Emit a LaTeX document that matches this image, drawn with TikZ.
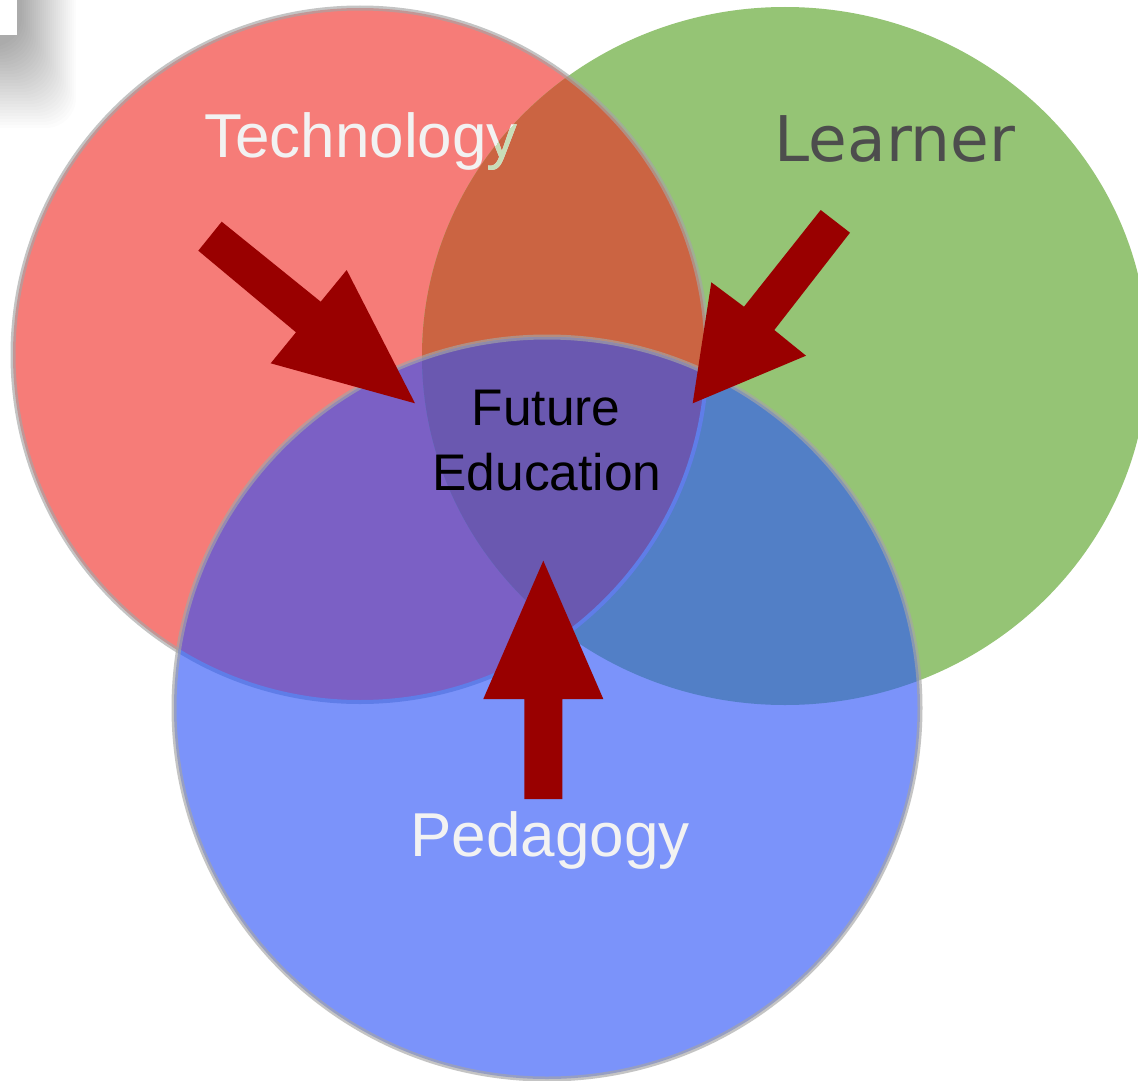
\documentclass[tikz,border=0pt]{standalone}
\usepackage{fontspec}
\setmainfont{Liberation Sans}
\newfontfamily\learnerfont{DejaVu Sans}
\definecolor{cred}{RGB}{246,124,120}
\definecolor{cgreen}{RGB}{149,196,117}
\definecolor{cblue}{RGB}{123,147,250}
\definecolor{crg}{RGB}{203,100,66}
\definecolor{cbr}{RGB}{123,96,197}
\definecolor{cbg}{RGB}{82,127,198}
\definecolor{cbrg}{RGB}{106,88,176}
\definecolor{cborder}{RGB}{165,165,165}
\definecolor{cinborder}{RGB}{95,125,232}
\definecolor{carrow}{RGB}{153,0,0}
\definecolor{ctext}{RGB}{242,242,242}
\definecolor{ctextg}{RGB}{200,221,184}
\definecolor{clearner}{RGB}{77,77,77}
\begin{document}
\begin{tikzpicture}[x=1pt,y=-1pt,
  rim/.style={draw=cborder,draw opacity=0.65,line width=5pt},
  blockarrow/.style={fill=carrow},
  biglabel/.style={font=\fontsize{62}{62}\selectfont,anchor=base,inner sep=0pt},
  midlabel/.style={font=\fontsize{51.5}{51.5}\selectfont,anchor=base,inner sep=0pt,text=black}]
\useasboundingbox (0,0) rectangle (1138,1081);
\fill[white] (0,0) rectangle (1138,1081);
% top-left shadow
\begin{scope}
\clip (0,0) rectangle (1138,1081);
\foreach \i in {0,...,27}{
  \fill[black,opacity=0.011,rounded corners=30pt] (-80,-80) rectangle ({76-2*\i},{128-3*\i});
}
\fill[white] (0,0) rectangle (17,35);
\end{scope}
% fills
\fill[cred] (360,355) ellipse [x radius=347pt, y radius=347pt];
\fill[cgreen] (785,356) ellipse [x radius=363pt, y radius=349pt];
\begin{scope}
\clip (360,355) ellipse [x radius=347pt, y radius=347pt];
\fill[crg] (785,356) ellipse [x radius=363pt, y radius=349pt];
\end{scope}
\node[biglabel,text=ctext] (tech) at (361,157) {Technology};
\begin{scope}
\clip (360,355) ellipse [x radius=347pt, y radius=347pt];
\clip (785,356) ellipse [x radius=363pt, y radius=349pt];
\node[biglabel,text=ctextg] at (361,157) {Technology};
\end{scope}
\draw[rim] (360,355) ellipse [x radius=347pt, y radius=347pt];
\fill[cblue] (547,708) ellipse [x radius=373pt, y radius=371pt];
\begin{scope}
\clip (547,708) ellipse [x radius=373pt, y radius=371pt];
\fill[cbr] (360,355) ellipse [x radius=347pt, y radius=347pt];
\fill[cbg] (785,356) ellipse [x radius=363pt, y radius=349pt];
\begin{scope}
\clip (360,355) ellipse [x radius=347pt, y radius=347pt];
\fill[cbrg] (785,356) ellipse [x radius=363pt, y radius=349pt];
\end{scope}
\draw[draw=cinborder,line width=4pt] (360,355) ellipse [x radius=347pt, y radius=347pt];
\end{scope}
\draw[rim] (547,708) ellipse [x radius=373pt, y radius=371pt];
% labels
\node[font=\learnerfont\fontsize{63}{63}\selectfont,anchor=base,inner sep=0pt,text=clearner] (learner) at (895,161) {Learner};
\node[biglabel,text=ctext] (ped) at (550,856) {Pedagogy};
\node[midlabel] (fut) at (546,425) {Future};
\node[midlabel] (edu) at (547,490) {Education};
% arrows
\fill[blockarrow] (221.7,221.7) -- (320.7,301.7) -- (346.7,270) -- (415,403.3) -- (270.7,363.3) -- (296,332.3) -- (198.3,250.7) -- cycle;
\fill[blockarrow] (820.7,210) -- (850,232.7) -- (774.3,330) -- (806,355.7) -- (692.7,403.3) -- (711.3,282.3) -- (744,306.7) -- cycle;
\fill[blockarrow] (543.3,560.7) -- (603.3,699) -- (562.3,699) -- (562.3,799) -- (524.3,799) -- (524.3,699) -- (483.3,699) -- cycle;
\end{tikzpicture}
\end{document}
